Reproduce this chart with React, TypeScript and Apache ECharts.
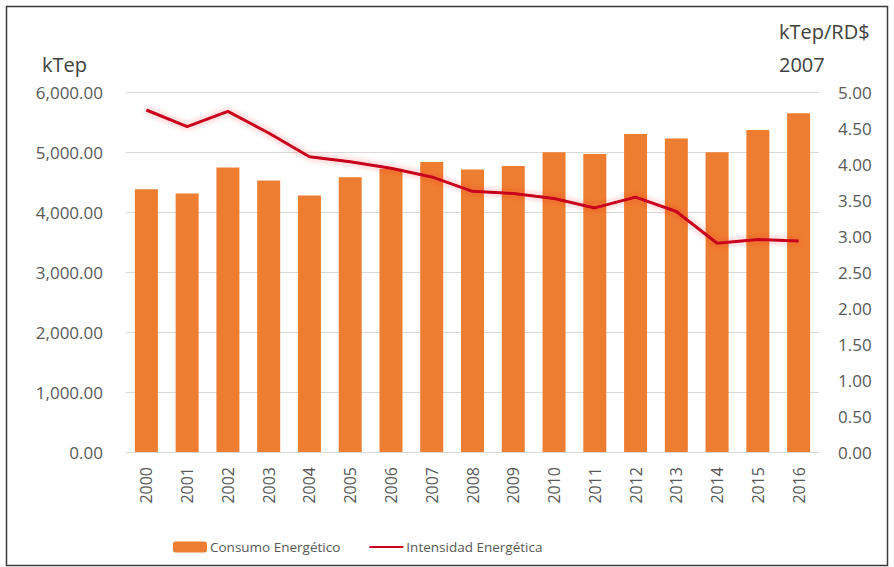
import React, { useEffect, useRef } from "react";
import * as echarts from "echarts";

const years = ["2000","2001","2002","2003","2004","2005","2006","2007","2008","2009","2010","2011","2012","2013","2014","2015","2016"];
const consumo = [4380, 4310, 4740, 4525, 4275, 4580, 4720, 4835, 4710, 4765, 4995, 4965, 5300, 5225, 4995, 5365, 5645];
const intensidad = [4.75, 4.52, 4.73, 4.43, 4.10, 4.03, 3.94, 3.82, 3.62, 3.59, 3.52, 3.39, 3.54, 3.34, 2.90, 2.95, 2.93];
const leftTicks = { min: 0, max: 6000, interval: 1000 };
const rightTicks = { min: 0, max: 5, interval: 0.5 };

const FONT = "Open Sans";

export default function App() {
  const ref = useRef<HTMLDivElement>(null);
  useEffect(() => {
    document.body.style.margin = "0";
    const chart = echarts.init(ref.current!, null, { renderer: "svg" });
    chart.setOption({
      animation: false,
      backgroundColor: "#ffffff",
      textStyle: { fontFamily: FONT },
      grid: { left: 126, right: 75, top: 92, bottom: 115 },
      legend: {
        left: 168,
        top: 535,
        itemWidth: 34,
        itemHeight: 11,
        itemGap: 28,
        textStyle: { fontFamily: FONT, fontSize: 13.5, color: "#595959", padding: [0, 0, 0, -2] },
        data: [
          { name: "Consumo Energético" },
          { name: "Intensidad Energética", itemStyle: { opacity: 0 } },
        ],
      },
      xAxis: {
        type: "category",
        data: years,
        axisLine: { lineStyle: { color: "#D9D9D9", width: 1 } },
        axisTick: { show: false },
        axisLabel: { rotate: 90, margin: 15, fontSize: 16, color: "#595959", fontFamily: FONT },
      },
      yAxis: [
        {
          type: "value",
          ...leftTicks,
          axisLine: { show: false },
          axisTick: { show: false },
          splitLine: { lineStyle: { color: "#D9D9D9", width: 1 } },
          axisLabel: {
            margin: 23,
            fontSize: 17,
            color: "#595959",
            fontFamily: FONT,
            formatter: (v: number) => v.toLocaleString("en-US", { minimumFractionDigits: 2, maximumFractionDigits: 2 }),
          },
        },
        {
          type: "value",
          ...rightTicks,
          axisLine: { show: false },
          axisTick: { show: false },
          splitLine: { show: false },
          axisLabel: {
            margin: 19,
            fontSize: 17,
            color: "#595959",
            fontFamily: FONT,
            formatter: (v: number) => v.toFixed(2),
          },
        },
      ],
      series: [
        {
          name: "Consumo Energético",
          type: "bar",
          data: consumo,
          barWidth: 23,
          yAxisIndex: 0,
          itemStyle: { color: "#ED7D31" },
        },
        {
          name: "Intensidad Energética",
          type: "line",
          data: intensidad,
          yAxisIndex: 1,
          symbol: "none",
          lineStyle: {
            color: "#C8001E",
            width: 3,
            shadowColor: "rgba(255,40,40,0.45)",
            shadowBlur: 6,
          },
          itemStyle: { color: "#C8001E" },
        },
      ],
      graphic: [
        {
          type: "rect",
          shape: { x: 6.5, y: 6.5, width: 881, height: 559 },
          style: { fill: "none", stroke: "#3a3a3a", lineWidth: 1.5 },
          silent: true,
        },
        {
          type: "text",
          left: 42,
          top: 54,
          style: { text: "kTep", fontSize: 20, fill: "#404040", fontFamily: FONT },
        },
        {
          type: "text",
          left: 779,
          top: 21,
          style: { text: "kTep/RD$", fontSize: 20, fill: "#404040", fontFamily: FONT },
        },
        {
          type: "text",
          left: 779,
          top: 54,
          style: { text: "2007", fontSize: 20, fill: "#404040", fontFamily: FONT },
        },
      ],
    });
    return () => chart.dispose();
  }, []);
  return <div ref={ref} style={{ width: 894, height: 567 }} />;
}
